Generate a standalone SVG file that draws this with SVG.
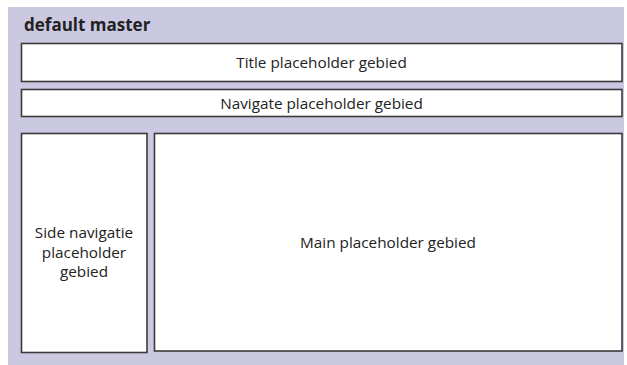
<svg xmlns="http://www.w3.org/2000/svg" width="627" height="365" viewBox="0 0 627 365">
  <style>
    .box { fill: #ffffff; stroke: #3a3a3a; stroke-width: 1.6; }
    .lbl { font-family: "Open Sans", "Noto Sans", sans-serif; font-size: 15.3px; fill: #222222; text-anchor: middle; }
    .head { font-family: "Open Sans", "Noto Sans", sans-serif; font-size: 17px; font-weight: bold; fill: #222222; }
  </style>
  <rect width="627" height="365" fill="#ffffff"/>
  <!-- master page area -->
  <g id="master">
    <rect x="8" y="7" width="616" height="358" fill="#cbc9e2"/>
    <text class="head" x="24" y="31">default master</text>
  </g>
  <g id="title">
    <rect class="box" x="21.5" y="43.5" width="600.5" height="38"/>
    <text class="lbl" x="321.5" y="68">Title placeholder gebied</text>
  </g>
  <g id="navigate">
    <rect class="box" x="21.5" y="89.5" width="600.5" height="27"/>
    <text class="lbl" x="321.5" y="108.5">Navigate placeholder gebied</text>
  </g>
  <g id="side-navigatie">
    <rect class="box" x="21.5" y="133.5" width="125.5" height="219"/>
    <text class="lbl" x="84" y="238">Side navigatie</text>
    <text class="lbl" x="84" y="257.5">placeholder</text>
    <text class="lbl" x="84" y="277">gebied</text>
  </g>
  <g id="main">
    <rect class="box" x="154.5" y="133.5" width="467.5" height="217.5"/>
    <text class="lbl" x="388" y="248">Main placeholder gebied</text>
  </g>
  <g id="connectors"/>
</svg>
